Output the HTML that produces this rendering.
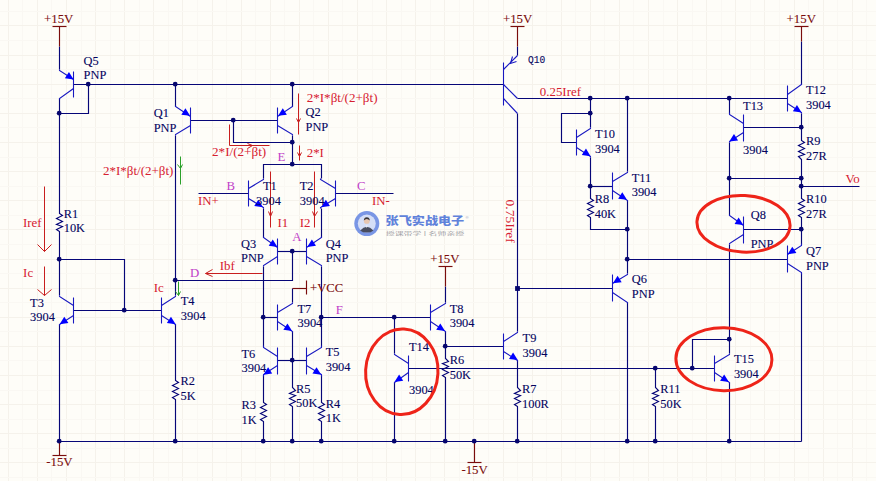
<!DOCTYPE html>
<html lang="zh"><head><meta charset="utf-8"><title>Op-amp schematic</title>
<style>html,body{margin:0;padding:0;background:#fefdf8;overflow:hidden}svg{display:block}text{font-family:"Liberation Serif","Noto Serif CJK SC",serif;white-space:pre}.m{font-family:"Liberation Mono",monospace}.wm{font-family:"Liberation Sans","Noto Sans CJK SC",sans-serif}</style></head><body>
<svg width="876" height="481" viewBox="0 0 876 481">
<rect width="876" height="481" fill="#fefdf8"/>
<g stroke-width="1" shape-rendering="crispEdges"><line x1="8.5" y1="0" x2="8.5" y2="481" stroke="#f5f2eb"/><line x1="22.5" y1="0" x2="22.5" y2="481" stroke="#faf8f3"/><line x1="37.5" y1="0" x2="37.5" y2="481" stroke="#f5f2eb"/><line x1="51.5" y1="0" x2="51.5" y2="481" stroke="#faf8f3"/><line x1="66.5" y1="0" x2="66.5" y2="481" stroke="#f5f2eb"/><line x1="81.5" y1="0" x2="81.5" y2="481" stroke="#faf8f3"/><line x1="95.5" y1="0" x2="95.5" y2="481" stroke="#f5f2eb"/><line x1="110.5" y1="0" x2="110.5" y2="481" stroke="#faf8f3"/><line x1="124.5" y1="0" x2="124.5" y2="481" stroke="#f5f2eb"/><line x1="139.5" y1="0" x2="139.5" y2="481" stroke="#faf8f3"/><line x1="153.5" y1="0" x2="153.5" y2="481" stroke="#f5f2eb"/><line x1="168.5" y1="0" x2="168.5" y2="481" stroke="#faf8f3"/><line x1="182.5" y1="0" x2="182.5" y2="481" stroke="#f5f2eb"/><line x1="197.5" y1="0" x2="197.5" y2="481" stroke="#faf8f3"/><line x1="212.5" y1="0" x2="212.5" y2="481" stroke="#f5f2eb"/><line x1="226.5" y1="0" x2="226.5" y2="481" stroke="#faf8f3"/><line x1="241.5" y1="0" x2="241.5" y2="481" stroke="#f5f2eb"/><line x1="255.5" y1="0" x2="255.5" y2="481" stroke="#faf8f3"/><line x1="270.5" y1="0" x2="270.5" y2="481" stroke="#f5f2eb"/><line x1="284.5" y1="0" x2="284.5" y2="481" stroke="#faf8f3"/><line x1="299.5" y1="0" x2="299.5" y2="481" stroke="#f5f2eb"/><line x1="313.5" y1="0" x2="313.5" y2="481" stroke="#faf8f3"/><line x1="328.5" y1="0" x2="328.5" y2="481" stroke="#f5f2eb"/><line x1="342.5" y1="0" x2="342.5" y2="481" stroke="#faf8f3"/><line x1="357.5" y1="0" x2="357.5" y2="481" stroke="#f5f2eb"/><line x1="372.5" y1="0" x2="372.5" y2="481" stroke="#faf8f3"/><line x1="386.5" y1="0" x2="386.5" y2="481" stroke="#f5f2eb"/><line x1="401.5" y1="0" x2="401.5" y2="481" stroke="#faf8f3"/><line x1="415.5" y1="0" x2="415.5" y2="481" stroke="#f5f2eb"/><line x1="430.5" y1="0" x2="430.5" y2="481" stroke="#faf8f3"/><line x1="444.5" y1="0" x2="444.5" y2="481" stroke="#f5f2eb"/><line x1="459.5" y1="0" x2="459.5" y2="481" stroke="#faf8f3"/><line x1="473.5" y1="0" x2="473.5" y2="481" stroke="#f5f2eb"/><line x1="488.5" y1="0" x2="488.5" y2="481" stroke="#faf8f3"/><line x1="503.5" y1="0" x2="503.5" y2="481" stroke="#f5f2eb"/><line x1="517.5" y1="0" x2="517.5" y2="481" stroke="#faf8f3"/><line x1="532.5" y1="0" x2="532.5" y2="481" stroke="#f5f2eb"/><line x1="546.5" y1="0" x2="546.5" y2="481" stroke="#faf8f3"/><line x1="561.5" y1="0" x2="561.5" y2="481" stroke="#f5f2eb"/><line x1="575.5" y1="0" x2="575.5" y2="481" stroke="#faf8f3"/><line x1="590.5" y1="0" x2="590.5" y2="481" stroke="#f5f2eb"/><line x1="604.5" y1="0" x2="604.5" y2="481" stroke="#faf8f3"/><line x1="619.5" y1="0" x2="619.5" y2="481" stroke="#f5f2eb"/><line x1="633.5" y1="0" x2="633.5" y2="481" stroke="#faf8f3"/><line x1="648.5" y1="0" x2="648.5" y2="481" stroke="#f5f2eb"/><line x1="663.5" y1="0" x2="663.5" y2="481" stroke="#faf8f3"/><line x1="677.5" y1="0" x2="677.5" y2="481" stroke="#f5f2eb"/><line x1="692.5" y1="0" x2="692.5" y2="481" stroke="#faf8f3"/><line x1="706.5" y1="0" x2="706.5" y2="481" stroke="#f5f2eb"/><line x1="721.5" y1="0" x2="721.5" y2="481" stroke="#faf8f3"/><line x1="735.5" y1="0" x2="735.5" y2="481" stroke="#f5f2eb"/><line x1="750.5" y1="0" x2="750.5" y2="481" stroke="#faf8f3"/><line x1="764.5" y1="0" x2="764.5" y2="481" stroke="#f5f2eb"/><line x1="779.5" y1="0" x2="779.5" y2="481" stroke="#faf8f3"/><line x1="794.5" y1="0" x2="794.5" y2="481" stroke="#f5f2eb"/><line x1="808.5" y1="0" x2="808.5" y2="481" stroke="#faf8f3"/><line x1="823.5" y1="0" x2="823.5" y2="481" stroke="#f5f2eb"/><line x1="837.5" y1="0" x2="837.5" y2="481" stroke="#faf8f3"/><line x1="852.5" y1="0" x2="852.5" y2="481" stroke="#f5f2eb"/><line x1="866.5" y1="0" x2="866.5" y2="481" stroke="#faf8f3"/><line x1="0" y1="-3.5" x2="876" y2="-3.5" stroke="#f5f2eb"/><line x1="0" y1="11.5" x2="876" y2="11.5" stroke="#faf8f3"/><line x1="0" y1="25.5" x2="876" y2="25.5" stroke="#f5f2eb"/><line x1="0" y1="40.5" x2="876" y2="40.5" stroke="#faf8f3"/><line x1="0" y1="55.5" x2="876" y2="55.5" stroke="#f5f2eb"/><line x1="0" y1="69.5" x2="876" y2="69.5" stroke="#faf8f3"/><line x1="0" y1="84.5" x2="876" y2="84.5" stroke="#f5f2eb"/><line x1="0" y1="98.5" x2="876" y2="98.5" stroke="#faf8f3"/><line x1="0" y1="113.5" x2="876" y2="113.5" stroke="#f5f2eb"/><line x1="0" y1="127.5" x2="876" y2="127.5" stroke="#faf8f3"/><line x1="0" y1="142.5" x2="876" y2="142.5" stroke="#f5f2eb"/><line x1="0" y1="157.5" x2="876" y2="157.5" stroke="#faf8f3"/><line x1="0" y1="171.5" x2="876" y2="171.5" stroke="#f5f2eb"/><line x1="0" y1="186.5" x2="876" y2="186.5" stroke="#faf8f3"/><line x1="0" y1="200.5" x2="876" y2="200.5" stroke="#f5f2eb"/><line x1="0" y1="215.5" x2="876" y2="215.5" stroke="#faf8f3"/><line x1="0" y1="229.5" x2="876" y2="229.5" stroke="#f5f2eb"/><line x1="0" y1="244.5" x2="876" y2="244.5" stroke="#faf8f3"/><line x1="0" y1="259.5" x2="876" y2="259.5" stroke="#f5f2eb"/><line x1="0" y1="273.5" x2="876" y2="273.5" stroke="#faf8f3"/><line x1="0" y1="288.5" x2="876" y2="288.5" stroke="#f5f2eb"/><line x1="0" y1="302.5" x2="876" y2="302.5" stroke="#faf8f3"/><line x1="0" y1="317.5" x2="876" y2="317.5" stroke="#f5f2eb"/><line x1="0" y1="331.5" x2="876" y2="331.5" stroke="#faf8f3"/><line x1="0" y1="346.5" x2="876" y2="346.5" stroke="#f5f2eb"/><line x1="0" y1="360.5" x2="876" y2="360.5" stroke="#faf8f3"/><line x1="0" y1="375.5" x2="876" y2="375.5" stroke="#f5f2eb"/><line x1="0" y1="390.5" x2="876" y2="390.5" stroke="#faf8f3"/><line x1="0" y1="404.5" x2="876" y2="404.5" stroke="#f5f2eb"/><line x1="0" y1="419.5" x2="876" y2="419.5" stroke="#faf8f3"/><line x1="0" y1="433.5" x2="876" y2="433.5" stroke="#f5f2eb"/><line x1="0" y1="448.5" x2="876" y2="448.5" stroke="#faf8f3"/><line x1="0" y1="462.5" x2="876" y2="462.5" stroke="#f5f2eb"/><line x1="0" y1="477.5" x2="876" y2="477.5" stroke="#faf8f3"/></g>
<g opacity="0.95"><circle cx="366.8" cy="223.6" r="12.5" fill="#7391e4"/><circle cx="366.8" cy="223.6" r="9" fill="#d3ddf7"/><path d="M360.2 230.4 q6.6 -7.4 13.2 0 q-2.2 2.2 -6.6 2.2 q-4.4 0 -6.6 -2.2z" fill="#3f4357"/><path d="M365.9 225.6 l0.9 2.6 l0.9 -2.6z" fill="#f3f3f6"/><circle cx="366.8" cy="220.9" r="2.9" fill="#e6c4ae"/><path d="M363.8 220.6 q0.2 -3.4 3 -3.4 q2.8 0 3 3.4 q-1.4 -1.6 -3 -1.6 q-1.6 0 -3 1.6z" fill="#2f2a2c"/><text class="wm" x="385.6" y="225" font-size="10.8" font-weight="900" fill="#587cda" textLength="78.6" lengthAdjust="spacingAndGlyphs">张飞实战电子</text><text class="wm" x="465.6" y="219.2" font-size="4.2" fill="#8a95b5">®</text><text class="wm" x="385.8" y="234.9" font-size="4.9" fill="#9c9ca2" textLength="78.4" lengthAdjust="spacingAndGlyphs">授课带学 | 名师亲授</text></g>
<g fill="none" stroke="#060678" stroke-width="1.15" stroke-linejoin="miter">
<polyline points="59.5,46.5 59.5,69.5"/>
<polyline points="73.5,84.5 503.5,84.5"/>
<polyline points="88.5,84.5 88.5,113.5 59.5,113.5"/>
<polyline points="59.5,98.5 59.5,213.5 62.5,215.5 56.5,218.5 62.5,221.5 56.5,224.5 62.5,226.5 56.5,229.5 59.5,231.5 59.5,295.5"/>
<polyline points="59.5,259.5 124.5,259.5 124.5,310.5"/>
<polyline points="73.5,310.5 161.5,310.5"/>
<polyline points="59.5,324.5 59.5,441.5"/>
<polyline points="175.5,295.5 175.5,135.5"/>
<polyline points="175.5,106.5 175.5,84.5"/>
<polyline points="175.5,324.5 175.5,380.5 178.5,382.5 172.5,385.5 178.5,388.5 172.5,391.5 178.5,394.5 172.5,397.5 175.5,399.5 175.5,441.5"/>
<polyline points="190.5,120.5 277.5,120.5"/>
<polyline points="233.5,120.5 233.5,142.5 292.5,142.5"/>
<polyline points="292.5,106.5 292.5,84.5"/>
<polyline points="292.5,135.5 292.5,164.5"/>
<polyline points="263.5,178.5 263.5,164.5 321.5,164.5 321.5,178.5"/>
<polyline points="198.5,193.5 248.5,193.5"/>
<polyline points="335.5,193.5 393.5,193.5"/>
<polyline points="263.5,208.5 263.5,237.5"/>
<polyline points="321.5,208.5 321.5,237.5"/>
<polyline points="277.5,251.5 306.5,251.5"/>
<polyline points="292.5,251.5 292.5,280.5 175.5,280.5"/>
<polyline points="263.5,266.5 263.5,346.5"/>
<polyline points="321.5,266.5 321.5,346.5"/>
<polyline points="321.5,317.5 430.5,317.5"/>
<polyline points="263.5,317.5 277.5,317.5"/>
<polyline points="292.5,302.5 292.5,288.5"/>
<polyline points="292.5,331.5 292.5,360.5"/>
<polyline points="292.5,360.5 292.5,387.5 295.5,390.5 289.5,393.5 295.5,395.5 289.5,398.5 295.5,401.5 289.5,404.5 292.5,406.5 292.5,441.5"/>
<polyline points="277.5,360.5 306.5,360.5"/>
<polyline points="263.5,375.5 263.5,402.5 266.5,404.5 260.5,407.5 266.5,410.5 260.5,413.5 266.5,416.5 260.5,419.5 263.5,421.5 263.5,441.5"/>
<polyline points="321.5,375.5 321.5,402.5 324.5,404.5 318.5,407.5 324.5,410.5 318.5,413.5 324.5,416.5 318.5,419.5 321.5,421.5 321.5,441.5"/>
<polyline points="394.5,353.5 394.5,317.5"/>
<polyline points="394.5,382.5 394.5,441.5"/>
<polyline points="408.5,368.5 714.5,368.5"/>
<polyline points="445.5,286.5 445.5,302.5"/>
<polyline points="445.5,331.5 445.5,346.5"/>
<polyline points="445.5,346.5 445.5,358.5 448.5,361.5 442.5,363.5 448.5,366.5 442.5,369.5 448.5,372.5 442.5,375.5 445.5,377.5 445.5,441.5"/>
<polyline points="445.5,346.5 503.5,346.5"/>
<polyline points="517.5,331.5 517.5,113.5"/>
<polyline points="517.5,360.5 517.5,387.5 520.5,390.5 514.5,393.5 520.5,395.5 514.5,398.5 520.5,401.5 514.5,404.5 517.5,406.5 517.5,441.5"/>
<polyline points="517.5,288.5 612.5,288.5"/>
<polyline points="517.5,46.5 517.5,55.5"/>
<polyline points="517.5,98.5 787.5,98.5"/>
<polyline points="590.5,98.5 590.5,127.5"/>
<polyline points="590.5,113.5 561.5,113.5 561.5,142.5 576.5,142.5"/>
<polyline points="590.5,157.5 590.5,198.5 593.5,200.5 587.5,203.5 593.5,206.5 587.5,209.5 593.5,212.5 587.5,215.5 590.5,217.5 590.5,229.5 627.5,229.5"/>
<polyline points="590.5,186.5 612.5,186.5"/>
<polyline points="627.5,171.5 627.5,98.5"/>
<polyline points="627.5,200.5 627.5,273.5"/>
<polyline points="627.5,302.5 627.5,441.5"/>
<polyline points="627.5,259.5 787.5,259.5"/>
<polyline points="655.5,368.5 655.5,387.5 658.5,390.5 652.5,393.5 658.5,395.5 652.5,398.5 658.5,401.5 652.5,404.5 655.5,406.5 655.5,441.5"/>
<polyline points="729.5,113.5 729.5,98.5"/>
<polyline points="729.5,142.5 729.5,215.5"/>
<polyline points="743.5,127.5 801.5,127.5"/>
<polyline points="801.5,41.5 801.5,84.5"/>
<polyline points="801.5,113.5 801.5,140.5 804.5,142.5 798.5,145.5 804.5,148.5 798.5,151.5 804.5,154.5 798.5,156.5 801.5,159.5 801.5,198.5 804.5,200.5 798.5,203.5 804.5,206.5 798.5,209.5 804.5,212.5 798.5,215.5 801.5,217.5 801.5,244.5"/>
<polyline points="729.5,178.5 801.5,178.5"/>
<polyline points="801.5,186.5 859.5,186.5"/>
<polyline points="743.5,229.5 801.5,229.5"/>
<polyline points="729.5,244.5 729.5,353.5"/>
<polyline points="729.5,339.5 692.5,339.5 692.5,368.5"/>
<polyline points="801.5,273.5 801.5,441.5"/>
<polyline points="729.5,382.5 729.5,441.5"/>
<polyline points="59.5,441.5 801.5,441.5"/>
</g>
<g fill="none" stroke="#1818c0" stroke-width="1.1" stroke-linejoin="miter">
<polyline points="73.5,71.5 73.5,97.5"/>
<polyline points="73.5,79.5 59.5,70.5 59.5,69.5"/>
<polyline points="73.5,88.5 59.5,98.5 59.5,99.5"/>
<polyline points="73.5,297.5 73.5,323.5"/>
<polyline points="73.5,305.5 59.5,296.5 59.5,295.5"/>
<polyline points="73.5,315.5 59.5,324.5 59.5,325.5"/>
<polyline points="161.5,297.5 161.5,323.5"/>
<polyline points="161.5,305.5 175.5,296.5 175.5,295.5"/>
<polyline points="161.5,315.5 175.5,324.5 175.5,325.5"/>
<polyline points="190.5,107.5 190.5,133.5"/>
<polyline points="190.5,116.5 175.5,106.5 175.5,105.5"/>
<polyline points="190.5,125.5 175.5,134.5 175.5,135.5"/>
<polyline points="277.5,107.5 277.5,133.5"/>
<polyline points="277.5,116.5 292.5,106.5 292.5,105.5"/>
<polyline points="277.5,125.5 292.5,134.5 292.5,135.5"/>
<polyline points="248.5,180.5 248.5,206.5"/>
<polyline points="248.5,188.5 263.5,179.5 263.5,178.5"/>
<polyline points="248.5,198.5 263.5,207.5 263.5,208.5"/>
<polyline points="335.5,180.5 335.5,206.5"/>
<polyline points="335.5,188.5 320.5,179.5 320.5,178.5"/>
<polyline points="335.5,198.5 320.5,207.5 320.5,208.5"/>
<polyline points="277.5,238.5 277.5,264.5"/>
<polyline points="277.5,247.5 263.5,237.5 263.5,236.5"/>
<polyline points="277.5,256.5 263.5,265.5 263.5,266.5"/>
<polyline points="306.5,238.5 306.5,264.5"/>
<polyline points="306.5,247.5 321.5,237.5 321.5,236.5"/>
<polyline points="306.5,256.5 321.5,265.5 321.5,266.5"/>
<polyline points="277.5,304.5 277.5,330.5"/>
<polyline points="277.5,312.5 292.5,303.5 292.5,302.5"/>
<polyline points="277.5,321.5 292.5,331.5 292.5,332.5"/>
<polyline points="277.5,347.5 277.5,374.5"/>
<polyline points="277.5,356.5 263.5,347.5 263.5,345.5"/>
<polyline points="277.5,365.5 263.5,374.5 263.5,376.5"/>
<polyline points="306.5,347.5 306.5,374.5"/>
<polyline points="306.5,356.5 321.5,347.5 321.5,345.5"/>
<polyline points="306.5,365.5 321.5,374.5 321.5,376.5"/>
<polyline points="408.5,355.5 408.5,381.5"/>
<polyline points="408.5,363.5 394.5,354.5 394.5,353.5"/>
<polyline points="408.5,372.5 394.5,382.5 394.5,383.5"/>
<polyline points="430.5,304.5 430.5,330.5"/>
<polyline points="430.5,312.5 445.5,303.5 445.5,302.5"/>
<polyline points="430.5,321.5 445.5,331.5 445.5,332.5"/>
<polyline points="503.5,333.5 503.5,359.5"/>
<polyline points="503.5,341.5 517.5,332.5 517.5,331.5"/>
<polyline points="503.5,351.5 517.5,360.5 517.5,361.5"/>
<polyline points="503.5,62.5 503.5,105.5"/>
<polyline points="517.5,55.5 503.5,69.5"/>
<polyline points="516.5,61.5 510.5,63.5 512.5,56.5"/>
<polyline points="503.5,84.5 517.5,98.5"/>
<polyline points="503.5,98.5 517.5,113.5"/>
<polyline points="576.5,129.5 576.5,155.5"/>
<polyline points="576.5,137.5 590.5,128.5 590.5,127.5"/>
<polyline points="576.5,147.5 590.5,156.5 590.5,157.5"/>
<polyline points="612.5,172.5 612.5,199.5"/>
<polyline points="612.5,181.5 627.5,172.5 627.5,171.5"/>
<polyline points="612.5,190.5 627.5,200.5 627.5,201.5"/>
<polyline points="612.5,274.5 612.5,301.5"/>
<polyline points="612.5,283.5 627.5,274.5 627.5,273.5"/>
<polyline points="612.5,292.5 627.5,302.5 627.5,303.5"/>
<polyline points="743.5,114.5 743.5,141.5"/>
<polyline points="743.5,123.5 729.5,114.5 729.5,112.5"/>
<polyline points="743.5,132.5 729.5,141.5 729.5,142.5"/>
<polyline points="787.5,85.5 787.5,111.5"/>
<polyline points="787.5,94.5 801.5,84.5 801.5,83.5"/>
<polyline points="787.5,103.5 801.5,112.5 801.5,113.5"/>
<polyline points="743.5,216.5 743.5,243.5"/>
<polyline points="743.5,225.5 729.5,215.5 729.5,214.5"/>
<polyline points="743.5,234.5 729.5,243.5 729.5,244.5"/>
<polyline points="787.5,245.5 787.5,272.5"/>
<polyline points="787.5,254.5 801.5,245.5 801.5,243.5"/>
<polyline points="787.5,263.5 801.5,272.5 801.5,274.5"/>
<polyline points="714.5,355.5 714.5,381.5"/>
<polyline points="714.5,363.5 729.5,354.5 729.5,353.5"/>
<polyline points="714.5,372.5 729.5,382.5 729.5,383.5"/>
</g>
<g fill="none" stroke="#7a0c0c" stroke-width="1.15" stroke-linejoin="miter">
<polyline points="52.5,26.5 66.5,26.5"/>
<polyline points="59.5,26.5 59.5,46.5"/>
<polyline points="59.5,441.5 59.5,455.5"/>
<polyline points="52.5,455.5 66.5,455.5"/>
<polyline points="292.5,288.5 306.5,288.5"/>
<polyline points="306.5,280.5 306.5,294.5"/>
<polyline points="438.5,266.5 452.5,266.5"/>
<polyline points="445.5,266.5 445.5,286.5"/>
<polyline points="474.5,441.5 474.5,462.5"/>
<polyline points="467.5,462.5 481.5,462.5"/>
<polyline points="510.5,26.5 524.5,26.5"/>
<polyline points="517.5,26.5 517.5,46.5"/>
<polyline points="794.5,26.5 808.5,26.5"/>
<polyline points="801.5,26.5 801.5,41.5"/>
</g>
<g fill="none" stroke="#c81e1e" stroke-width="1.0" stroke-linejoin="miter">
<polyline points="44.5,186.5 44.5,251.5"/>
<polyline points="37.5,244.5 44.5,251.5 51.5,244.5"/>
<polyline points="44.5,266.5 44.5,295.5"/>
<polyline points="37.5,289.5 44.5,295.5 51.5,289.5"/>
<polyline points="262.5,273.5 205.5,273.5"/>
<polyline points="212.5,269.5 205.5,273.5 212.5,276.5"/>
<polyline points="270.5,171.5 270.5,227.5"/>
<polyline points="268.5,211.5 270.5,216.5 272.5,211.5"/>
<polyline points="314.5,171.5 314.5,227.5"/>
<polyline points="312.5,211.5 314.5,216.5 317.5,211.5"/>
<polyline points="298.5,93.5 298.5,134.5"/>
<polyline points="296.5,118.5 298.5,122.5 300.5,118.5"/>
<polyline points="299.5,145.5 299.5,160.5"/>
<polyline points="297.5,152.5 299.5,156.5 301.5,152.5"/>
<polyline points="229.5,124.5 229.5,145.5 269.5,145.5"/>
<polyline points="247.5,148.5 252.5,145.5 247.5,143.5"/>
</g>
<g fill="none" stroke="#2aa02a" stroke-width="1.0" stroke-linejoin="miter">
<polyline points="180.5,156.5 180.5,184.5"/>
<polyline points="177.5,164.5 180.5,168.5 182.5,164.5"/>
<polyline points="178.5,281.5 178.5,295.5"/>
<polyline points="175.5,291.5 178.5,295.5 180.5,291.5"/>
</g>
<g fill="#0000ff"><polygon points="73.66,79.4 64.87,78.3 68.96,71.89"/><polygon points="59.6,324.2 64.3,316.69 68.39,323.1"/><polygon points="175.67,324.2 166.88,323.1 170.97,316.69"/><polygon points="190.12,115.82 181.33,114.72 185.42,108.31"/><polygon points="278.07,115.82 282.77,108.31 286.86,114.72"/><polygon points="263.01,207.15 254.22,206.05 258.31,199.64"/><polygon points="321.14,207.15 325.84,199.64 329.93,206.05"/><polygon points="277.47,246.92 268.68,245.82 272.77,239.41"/><polygon points="307.19,246.92 311.89,239.41 315.98,245.82"/><polygon points="292.13,330.97 283.34,329.87 287.43,323.46"/><polygon points="263.41,374.67 268.11,367.16 272.2,373.57"/><polygon points="321.25,374.67 312.46,373.57 316.55,367.16"/><polygon points="394.43,381.96 399.13,374.45 403.22,380.86"/><polygon points="444.99,330.97 436.2,329.87 440.29,323.46"/><polygon points="517.78,360.11 508.99,359.01 513.08,352.6"/><polygon points="590.57,156.17 581.8,154.96 585.97,148.6"/><polygon points="626.96,199.87 618.17,198.77 622.26,192.36"/><polygon points="612.9,283.34 617.6,275.83 621.69,282.24"/><polygon points="729.27,141.6 733.97,134.09 738.06,140.5"/><polygon points="801.66,112.47 792.87,111.37 796.96,104.96"/><polygon points="743.33,225.07 734.54,223.97 738.63,217.56"/><polygon points="787.6,254.2 792.3,246.69 796.39,253.1"/><polygon points="728.87,381.96 720.08,380.86 724.17,374.45"/></g>
<g fill="#06066e"><circle cx="88.2" cy="84.2" r="2.4"/><circle cx="59.2" cy="113.2" r="2.4"/><circle cx="59.2" cy="259.2" r="2.4"/><circle cx="124.2" cy="310.2" r="2.4"/><circle cx="59.2" cy="441.2" r="2.4"/><circle cx="175.2" cy="280.2" r="2.4"/><circle cx="175.2" cy="84.2" r="2.4"/><circle cx="175.2" cy="441.2" r="2.4"/><circle cx="233.2" cy="120.2" r="2.4"/><circle cx="292.2" cy="142.2" r="2.4"/><circle cx="292.2" cy="84.2" r="2.4"/><circle cx="292.2" cy="164.2" r="2.4"/><circle cx="292.2" cy="251.2" r="2.4"/><circle cx="263.2" cy="317.2" r="2.4"/><circle cx="321.2" cy="317.2" r="2.4"/><circle cx="394.2" cy="317.2" r="2.4"/><circle cx="292.2" cy="360.2" r="2.4"/><circle cx="292.2" cy="441.2" r="2.4"/><circle cx="263.2" cy="441.2" r="2.4"/><circle cx="321.2" cy="441.2" r="2.4"/><circle cx="394.2" cy="441.2" r="2.4"/><circle cx="655.2" cy="368.2" r="2.4"/><circle cx="692.2" cy="368.2" r="2.4"/><circle cx="445.2" cy="346.2" r="2.4"/><circle cx="445.2" cy="441.2" r="2.4"/><circle cx="474.2" cy="441.2" r="2.4"/><circle cx="517.2" cy="441.2" r="2.4"/><circle cx="590.2" cy="98.2" r="2.4"/><circle cx="627.2" cy="98.2" r="2.4"/><circle cx="729.2" cy="98.2" r="2.4"/><circle cx="590.2" cy="113.2" r="2.4"/><circle cx="590.2" cy="186.2" r="2.4"/><circle cx="627.2" cy="229.2" r="2.4"/><circle cx="627.2" cy="259.2" r="2.4"/><circle cx="627.2" cy="441.2" r="2.4"/><circle cx="655.2" cy="441.2" r="2.4"/><circle cx="729.2" cy="178.2" r="2.4"/><circle cx="801.2" cy="127.2" r="2.4"/><circle cx="801.2" cy="178.2" r="2.4"/><circle cx="801.2" cy="186.2" r="2.4"/><circle cx="801.2" cy="229.2" r="2.4"/><circle cx="729.2" cy="339.2" r="2.4"/><circle cx="729.2" cy="441.2" r="2.4"/><rect x="515.1" y="286.1" width="4.8" height="4.8"/></g>
<text x="44" y="22.9" font-size="12.85" fill="#7a0c0c" stroke="#7a0c0c" stroke-width="0.1">+15V</text>
<text x="502.9" y="22.9" font-size="12.85" fill="#7a0c0c" stroke="#7a0c0c" stroke-width="0.1">+15V</text>
<text x="786.6" y="22.9" font-size="12.85" fill="#7a0c0c" stroke="#7a0c0c" stroke-width="0.1">+15V</text>
<text x="430.2" y="262.5" font-size="12.85" fill="#7a0c0c" stroke="#7a0c0c" stroke-width="0.1">+15V</text>
<text x="46.2" y="466.4" font-size="12.85" fill="#7a0c0c" stroke="#7a0c0c" stroke-width="0.1">-15V</text>
<text x="461.4" y="474" font-size="12.85" fill="#7a0c0c" stroke="#7a0c0c" stroke-width="0.1">-15V</text>
<text x="310.1" y="291.7" font-size="12.6" fill="#7a0c0c" stroke="#7a0c0c" stroke-width="0.1">+VCC</text>
<text transform="translate(83.6 64.8) scale(0.97 1)" font-size="12.8" fill="#04045e" stroke="#04045e" stroke-width="0.1">Q5</text>
<text transform="translate(83.6 79.3) scale(0.97 1)" font-size="12.8" fill="#04045e" stroke="#04045e" stroke-width="0.1">PNP</text>
<text transform="translate(153.7 117.4) scale(0.97 1)" font-size="12.8" fill="#04045e" stroke="#04045e" stroke-width="0.1">Q1</text>
<text transform="translate(153.7 131.9) scale(0.97 1)" font-size="12.8" fill="#04045e" stroke="#04045e" stroke-width="0.1">PNP</text>
<text transform="translate(63.7 217.6) scale(0.97 1)" font-size="12.8" fill="#04045e" stroke="#04045e" stroke-width="0.1">R1</text>
<text transform="translate(63.7 232.1) scale(0.97 1)" font-size="12.8" fill="#04045e" stroke="#04045e" stroke-width="0.1">10K</text>
<text transform="translate(30.1 306.8) scale(0.97 1)" font-size="12.8" fill="#04045e" stroke="#04045e" stroke-width="0.1">T3</text>
<text transform="translate(30.1 321.3) scale(0.97 1)" font-size="12.8" fill="#04045e" stroke="#04045e" stroke-width="0.1">3904</text>
<text transform="translate(180.8 305.3) scale(0.97 1)" font-size="12.8" fill="#04045e" stroke="#04045e" stroke-width="0.1">T4</text>
<text transform="translate(180.8 319.8) scale(0.97 1)" font-size="12.8" fill="#04045e" stroke="#04045e" stroke-width="0.1">3904</text>
<text transform="translate(180.5 385.4) scale(0.97 1)" font-size="12.8" fill="#04045e" stroke="#04045e" stroke-width="0.1">R2</text>
<text transform="translate(180.5 399.9) scale(0.97 1)" font-size="12.8" fill="#04045e" stroke="#04045e" stroke-width="0.1">5K</text>
<text transform="translate(305.5 116.2) scale(0.97 1)" font-size="12.8" fill="#04045e" stroke="#04045e" stroke-width="0.1">Q2</text>
<text transform="translate(305.5 130.7) scale(0.97 1)" font-size="12.8" fill="#04045e" stroke="#04045e" stroke-width="0.1">PNP</text>
<text transform="translate(262.9 190.2) scale(0.97 1)" font-size="12.8" fill="#04045e" stroke="#04045e" stroke-width="0.1">T1</text>
<text transform="translate(256.1 204.7) scale(0.97 1)" font-size="12.8" fill="#04045e" stroke="#04045e" stroke-width="0.1">3904</text>
<text transform="translate(299.8 190.2) scale(0.97 1)" font-size="12.8" fill="#04045e" stroke="#04045e" stroke-width="0.1">T2</text>
<text transform="translate(299.8 204.7) scale(0.97 1)" font-size="12.8" fill="#04045e" stroke="#04045e" stroke-width="0.1">3904</text>
<text transform="translate(241 247.5) scale(0.97 1)" font-size="12.8" fill="#04045e" stroke="#04045e" stroke-width="0.1">Q3</text>
<text transform="translate(241 262) scale(0.97 1)" font-size="12.8" fill="#04045e" stroke="#04045e" stroke-width="0.1">PNP</text>
<text transform="translate(325.7 247.5) scale(0.97 1)" font-size="12.8" fill="#04045e" stroke="#04045e" stroke-width="0.1">Q4</text>
<text transform="translate(325.7 262) scale(0.97 1)" font-size="12.8" fill="#04045e" stroke="#04045e" stroke-width="0.1">PNP</text>
<text transform="translate(297.5 312.8) scale(0.97 1)" font-size="12.8" fill="#04045e" stroke="#04045e" stroke-width="0.1">T7</text>
<text transform="translate(297.5 327.3) scale(0.97 1)" font-size="12.8" fill="#04045e" stroke="#04045e" stroke-width="0.1">3904</text>
<text transform="translate(241.5 357.5) scale(0.97 1)" font-size="12.8" fill="#04045e" stroke="#04045e" stroke-width="0.1">T6</text>
<text transform="translate(241.5 372) scale(0.97 1)" font-size="12.8" fill="#04045e" stroke="#04045e" stroke-width="0.1">3904</text>
<text transform="translate(325.7 356.3) scale(0.97 1)" font-size="12.8" fill="#04045e" stroke="#04045e" stroke-width="0.1">T5</text>
<text transform="translate(325.7 370.8) scale(0.97 1)" font-size="12.8" fill="#04045e" stroke="#04045e" stroke-width="0.1">3904</text>
<text transform="translate(296 392.9) scale(0.97 1)" font-size="12.8" fill="#04045e" stroke="#04045e" stroke-width="0.1">R5</text>
<text transform="translate(296 407.4) scale(0.97 1)" font-size="12.8" fill="#04045e" stroke="#04045e" stroke-width="0.1">50K</text>
<text transform="translate(241.5 409.1) scale(0.97 1)" font-size="12.8" fill="#04045e" stroke="#04045e" stroke-width="0.1">R3</text>
<text transform="translate(241.5 423.6) scale(0.97 1)" font-size="12.8" fill="#04045e" stroke="#04045e" stroke-width="0.1">1K</text>
<text transform="translate(325.7 407.5) scale(0.97 1)" font-size="12.8" fill="#04045e" stroke="#04045e" stroke-width="0.1">R4</text>
<text transform="translate(325.7 422) scale(0.97 1)" font-size="12.8" fill="#04045e" stroke="#04045e" stroke-width="0.1">1K</text>
<text transform="translate(449.7 312.8) scale(0.97 1)" font-size="12.8" fill="#04045e" stroke="#04045e" stroke-width="0.1">T8</text>
<text transform="translate(449.7 327.3) scale(0.97 1)" font-size="12.8" fill="#04045e" stroke="#04045e" stroke-width="0.1">3904</text>
<text transform="translate(409 351.1) scale(0.97 1)" font-size="12.8" fill="#04045e" stroke="#04045e" stroke-width="0.1">T14</text>
<text transform="translate(409 393.8) scale(0.97 1)" font-size="12.8" fill="#04045e" stroke="#04045e" stroke-width="0.1">3904</text>
<text transform="translate(449.7 364.1) scale(0.97 1)" font-size="12.8" fill="#04045e" stroke="#04045e" stroke-width="0.1">R6</text>
<text transform="translate(449.7 378.6) scale(0.97 1)" font-size="12.8" fill="#04045e" stroke="#04045e" stroke-width="0.1">50K</text>
<text transform="translate(522.6 342) scale(0.97 1)" font-size="12.8" fill="#04045e" stroke="#04045e" stroke-width="0.1">T9</text>
<text transform="translate(522.6 356.5) scale(0.97 1)" font-size="12.8" fill="#04045e" stroke="#04045e" stroke-width="0.1">3904</text>
<text transform="translate(522 393) scale(0.97 1)" font-size="12.8" fill="#04045e" stroke="#04045e" stroke-width="0.1">R7</text>
<text transform="translate(522 407.5) scale(0.97 1)" font-size="12.8" fill="#04045e" stroke="#04045e" stroke-width="0.1">100R</text>
<text transform="translate(595 138) scale(0.97 1)" font-size="12.8" fill="#04045e" stroke="#04045e" stroke-width="0.1">T10</text>
<text transform="translate(595 152.5) scale(0.97 1)" font-size="12.8" fill="#04045e" stroke="#04045e" stroke-width="0.1">3904</text>
<text transform="translate(631.7 181.6) scale(0.97 1)" font-size="12.8" fill="#04045e" stroke="#04045e" stroke-width="0.1">T11</text>
<text transform="translate(631.7 196.1) scale(0.97 1)" font-size="12.8" fill="#04045e" stroke="#04045e" stroke-width="0.1">3904</text>
<text transform="translate(594.7 203.3) scale(0.97 1)" font-size="12.8" fill="#04045e" stroke="#04045e" stroke-width="0.1">R8</text>
<text transform="translate(594.7 217.8) scale(0.97 1)" font-size="12.8" fill="#04045e" stroke="#04045e" stroke-width="0.1">40K</text>
<text transform="translate(631.8 283.3) scale(0.97 1)" font-size="12.8" fill="#04045e" stroke="#04045e" stroke-width="0.1">Q6</text>
<text transform="translate(631.8 297.8) scale(0.97 1)" font-size="12.8" fill="#04045e" stroke="#04045e" stroke-width="0.1">PNP</text>
<text transform="translate(660.3 393) scale(0.97 1)" font-size="12.8" fill="#04045e" stroke="#04045e" stroke-width="0.1">R11</text>
<text transform="translate(660.3 407.5) scale(0.97 1)" font-size="12.8" fill="#04045e" stroke="#04045e" stroke-width="0.1">50K</text>
<text transform="translate(743.1 110.1) scale(0.97 1)" font-size="12.8" fill="#04045e" stroke="#04045e" stroke-width="0.1">T13</text>
<text transform="translate(743.1 154.2) scale(0.97 1)" font-size="12.8" fill="#04045e" stroke="#04045e" stroke-width="0.1">3904</text>
<text transform="translate(806 94.4) scale(0.97 1)" font-size="12.8" fill="#04045e" stroke="#04045e" stroke-width="0.1">T12</text>
<text transform="translate(806 108.9) scale(0.97 1)" font-size="12.8" fill="#04045e" stroke="#04045e" stroke-width="0.1">3904</text>
<text transform="translate(806 145.4) scale(0.97 1)" font-size="12.8" fill="#04045e" stroke="#04045e" stroke-width="0.1">R9</text>
<text transform="translate(806 159.9) scale(0.97 1)" font-size="12.8" fill="#04045e" stroke="#04045e" stroke-width="0.1">27R</text>
<text transform="translate(806 203) scale(0.97 1)" font-size="12.8" fill="#04045e" stroke="#04045e" stroke-width="0.1">R10</text>
<text transform="translate(806 217.5) scale(0.97 1)" font-size="12.8" fill="#04045e" stroke="#04045e" stroke-width="0.1">27R</text>
<text transform="translate(750.7 218.8) scale(0.97 1)" font-size="12.8" fill="#04045e" stroke="#04045e" stroke-width="0.1">Q8</text>
<text transform="translate(750.7 248) scale(0.97 1)" font-size="12.8" fill="#04045e" stroke="#04045e" stroke-width="0.1">PNP</text>
<text transform="translate(806 255) scale(0.97 1)" font-size="12.8" fill="#04045e" stroke="#04045e" stroke-width="0.1">Q7</text>
<text transform="translate(806 269.5) scale(0.97 1)" font-size="12.8" fill="#04045e" stroke="#04045e" stroke-width="0.1">PNP</text>
<text transform="translate(733.9 363.3) scale(0.97 1)" font-size="12.8" fill="#04045e" stroke="#04045e" stroke-width="0.1">T15</text>
<text transform="translate(733.9 377.8) scale(0.97 1)" font-size="12.8" fill="#04045e" stroke="#04045e" stroke-width="0.1">3904</text>
<text class="m" x="528" y="62.7" textLength="17.2" lengthAdjust="spacingAndGlyphs" font-size="10.4" fill="#04045e" stroke="#04045e" stroke-width="0.1">Q10</text>
<text x="23" y="227" font-size="12.9" fill="#d62030">Iref</text>
<text x="23.1" y="277.2" font-size="12.9" fill="#d62030">Ic</text>
<text x="153.7" y="292.2" font-size="12.9" fill="#d62030">Ic</text>
<text x="219.7" y="270" font-size="12.9" fill="#d62030">Ibf</text>
<text x="103" y="175.3" textLength="70.4" lengthAdjust="spacingAndGlyphs" font-size="12.9" fill="#d62030">2*I*βt/(2+βt)</text>
<text x="306.7" y="102.4" textLength="70.8" lengthAdjust="spacingAndGlyphs" font-size="12.9" fill="#d62030">2*I*βt/(2+βt)</text>
<text x="212" y="156.4" textLength="54.2" lengthAdjust="spacingAndGlyphs" font-size="12.9" fill="#d62030">2*I/(2+βt)</text>
<text x="306.7" y="157" font-size="12.9" fill="#d62030">2*I</text>
<text x="198" y="204.6" font-size="12.8" fill="#d62030">IN+</text>
<text x="372.1" y="204.8" font-size="12.8" fill="#d62030">IN-</text>
<text x="277.4" y="226.9" font-size="12.9" fill="#d62030">I1</text>
<text x="299.8" y="226.9" font-size="12.9" fill="#d62030">I2</text>
<text x="539.8" y="96.3" font-size="12.9" fill="#d62030">0.25Iref</text>
<text x="845.6" y="183.1" font-size="12.9" fill="#d62030">Vo</text>
<text transform="translate(505.8 199.6) rotate(90)" font-size="13.5" fill="#d62030">0.75Iref</text>
<text x="226.5" y="190.3" font-size="12.8" fill="#c040c8">B</text>
<text x="357" y="190.3" font-size="12.8" fill="#c040c8">C</text>
<text x="277.5" y="160.8" font-size="12.8" fill="#c040c8">E</text>
<text x="292.3" y="241.3" font-size="12.8" fill="#c040c8">A</text>
<text x="190.1" y="277.3" font-size="12.8" fill="#c040c8">D</text>
<text x="335.7" y="313.6" font-size="12.8" fill="#c040c8">F</text>
<g fill="none" stroke="#ee2419" stroke-width="3">
<ellipse cx="743.5" cy="223.8" rx="46.6" ry="28.3" transform="rotate(3 743.5 223.8)"/>
<ellipse cx="723.9" cy="359.2" rx="48" ry="31.5" transform="rotate(1 723.9 359.2)"/>
<ellipse cx="401.8" cy="371.8" rx="36.2" ry="42.8" transform="rotate(3 401.8 371.8)"/>
</g>
</svg></body></html>
